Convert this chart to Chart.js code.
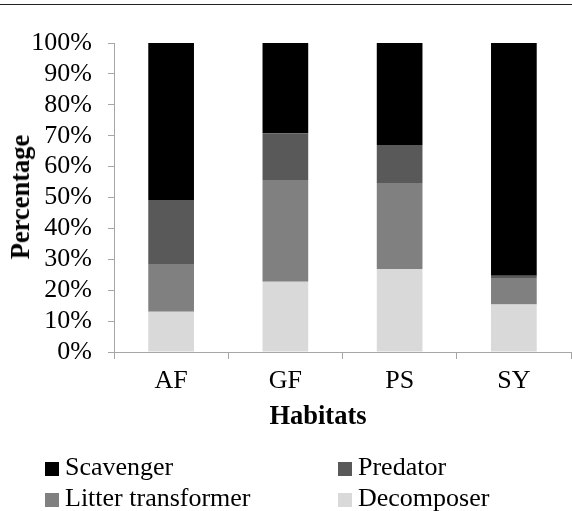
<!DOCTYPE html>
<html>
<head>
<meta charset="utf-8">
<script src="https://cdn.jsdelivr.net/npm/chart.js@4"></script>
<style>
  html, body { margin: 0; padding: 0; background: #fff; }
  #wrap { position: relative; width: 572px; height: 511px; overflow: hidden; font-family: "Liberation Serif", "Times New Roman", serif; color: #000; }
  #chartBox { position: absolute; left: 0; top: 0; width: 572px; height: 511px; }
  #topline { position: absolute; left: 0; top: 4px; width: 572px; height: 1px; background: #222; }
  .ttl { position: absolute; font-weight: bold; font-size: 26.5px; line-height: 26px; white-space: nowrap; }
  #xtitle { left: 318px; top: 402px; transform: translateX(-50%); }
  #ytitle { left: 20px; top: 197px; transform: translate(-50%, -50%) rotate(-90deg); }
  .lg { position: absolute; font-size: 26px; line-height: 26px; white-space: nowrap; }
  .lg .bx { position: absolute; width: 14px; height: 14px; }
</style>
</head>
<body>
<div id="wrap">
  <div id="topline"></div>
  <div id="chartBox"><canvas id="c" width="572" height="511"></canvas></div>
  <div id="xtitle" class="ttl">Habitats</div>
  <div id="ytitle" class="ttl">Percentage</div>
  <div id="legend"></div>
</div>
<script>
const categories = ['AF', 'GF', 'PS', 'SY'];
const decomposer = [13.0, 22.7, 26.9, 15.4];
const litterTransformer = [15.5, 33.0, 27.8, 8.3];
const predator = [20.7, 15.1, 12.3, 1.0];
const scavenger = [50.8, 29.2, 33.0, 75.3];
const yTicks = [0, 10, 20, 30, 40, 50, 60, 70, 80, 90, 100];

const seriesNames = ['Decomposer', 'Litter transformer', 'Predator', 'Scavenger'];
const seriesData = [decomposer, litterTransformer, predator, scavenger];
const seriesColors = ['#d9d9d9', '#808080', '#595959', '#000000'];

const axisColor = '#a6a6a6';
const fontFam = '"Liberation Serif", "Times New Roman", serif';

const datasets = seriesNames.map((n, i) => ({
  label: n,
  data: seriesData[i],
  backgroundColor: seriesColors[i],
  borderWidth: 0,
  barPercentage: 0.4,
  categoryPercentage: 1.0,
  stack: 's'
}));

new Chart(document.getElementById('c'), {
  type: 'bar',
  data: { labels: categories, datasets },
  options: {
    responsive: false,
    animation: false,
    devicePixelRatio: 1,
    layout: { padding: { top: 43, right: 1, bottom: 119, left: 0 } },
    plugins: { legend: { display: false }, tooltip: { enabled: false } },
    scales: {
      x: {
        stacked: true,
        grid: { display: true, drawOnChartArea: false, drawTicks: true, tickLength: 7, color: axisColor, offset: true },
        border: { display: true, color: axisColor, width: 1 },
        ticks: { color: '#000', font: { family: fontFam, size: 26 }, padding: 7, maxRotation: 0 },
        afterFit: s => { s.height = 40; }
      },
      y: {
        stacked: true,
        min: 0, max: 100,
        afterBuildTicks: s => { s.ticks = yTicks.map(v => ({ value: v })); },
        grid: { display: true, drawOnChartArea: false, drawTicks: true, tickLength: 6, color: axisColor },
        border: { display: true, color: axisColor, width: 1 },
        ticks: { color: '#000', font: { family: fontFam, size: 26 }, padding: 16, autoSkip: false, callback: v => v + '%' },
        afterFit: s => { s.width = 114; }
      }
    }
  }
});

// Legend (two columns, order as in the reference)
const legendOrder = [
  { idx: 3, left: 45, top: 454 },
  { idx: 2, left: 338, top: 454 },
  { idx: 1, left: 45, top: 485 },
  { idx: 0, left: 338, top: 485 }
];
const lg = document.getElementById('legend');
legendOrder.forEach(it => {
  const d = document.createElement('div');
  d.className = 'lg';
  d.style.left = it.left + 'px';
  d.style.top = it.top + 'px';
  d.style.paddingLeft = '20px';
  const b = document.createElement('span');
  b.className = 'bx';
  b.style.background = seriesColors[it.idx];
  b.style.left = '0px';
  b.style.top = '8px';
  d.appendChild(b);
  d.appendChild(document.createTextNode(seriesNames[it.idx]));
  lg.appendChild(d);
});
</script>
</body>
</html>
